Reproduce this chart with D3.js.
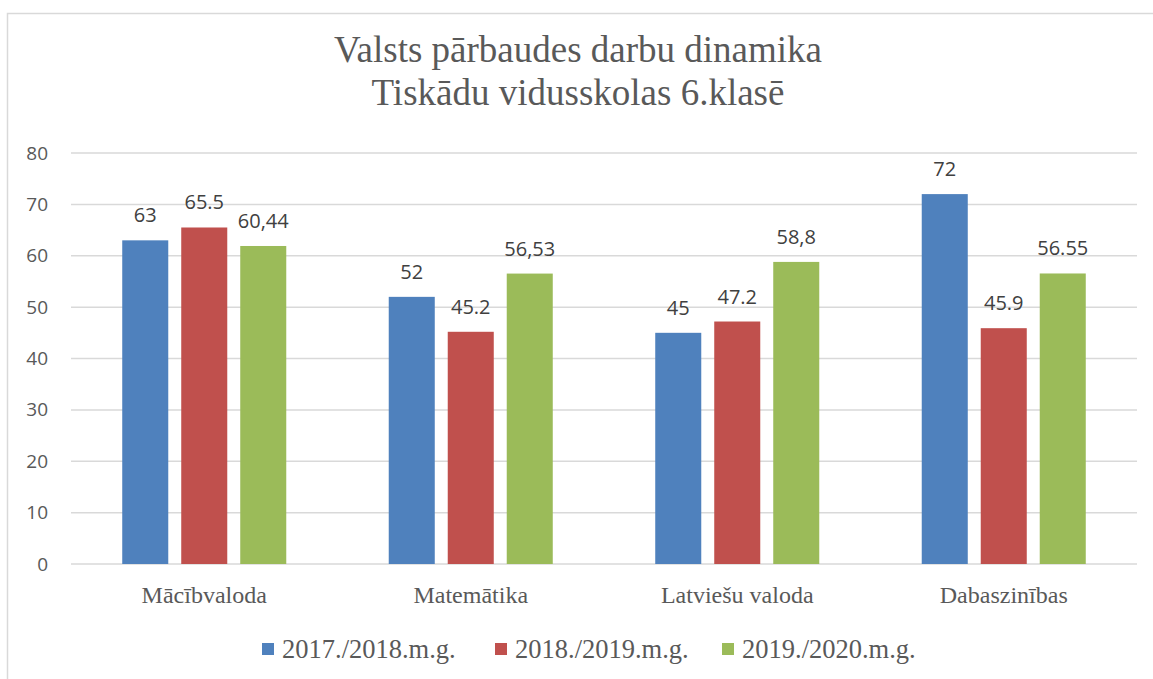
<!DOCTYPE html>
<html>
<head>
<meta charset="utf-8">
<script src="https://cdn.jsdelivr.net/npm/d3@7"></script>
<style>
  body { margin: 0; background: #fff; }
  svg { display: block; }
</style>
</head>
<body>
<div id="chart"></div>
<script>
"use strict"
// Chart data
var categories = ["Mācībvaloda", "Matemātika", "Latviešu valoda", "Dabaszinības"];
var seriesNames = ["2017./2018.m.g.", "2018./2019.m.g.", "2019./2020.m.g."];
var values2017 = [63, 52, 45, 72];
var values2018 = [65.5, 45.2, 47.2, 45.9];
var values2019 = [61.9, 56.53, 58.8, 56.55]; // bar heights as drawn
var labels2017 = ["63", "52", "45", "72"];
var labels2018 = ["65.5", "45.2", "47.2", "45.9"];
var labels2019 = ["60,44", "56,53", "58,8", "56.55"];
var yTicks = [0, 10, 20, 30, 40, 50, 60, 70, 80];
var titleLines = ["Valsts pārbaudes darbu dinamika", "Tiskādu vidusskolas 6.klasē"];

var colors = ["#4F81BD", "#C0504D", "#9BBB59"];
var seriesValues = [values2017, values2018, values2019];
var seriesLabels = [labels2017, labels2018, labels2019];

var width = 1153, height = 679;
var margin = {top: 153, right: 16, bottom: 115, left: 71};
var drawWidth = width - margin.left - margin.right;
var drawHeight = height - margin.top - margin.bottom;

var svg = d3.select("#chart").append("svg")
    .attr("width", width)
    .attr("height", height);

// chart frame
svg.append("rect")
    .attr("x", 7.5).attr("y", 13.5)
    .attr("width", width + 20).attr("height", height + 20)
    .attr("fill", "none")
    .attr("stroke", "#d9d9d9")
    .attr("stroke-width", 1.5);

// title
svg.append("g").selectAll("text")
    .data(titleLines).enter().append("text")
    .attr("x", 578)
    .attr("y", function(d, i) { return 62 + i * 43; })
    .attr("text-anchor", "middle")
    .style("font-family", "'Liberation Serif', 'Times New Roman', serif")
    .style("font-size", "37px")
    .attr("fill", "#595959")
    .text(function(d) { return d; });

var xScale = d3.scaleBand().domain(categories).range([0, drawWidth]);
var x1 = d3.scaleBand().domain(d3.range(seriesNames.length))
    .range([-88.5, 88.5]).paddingInner(0.22).paddingOuter(0.11);
var yScale = d3.scaleLinear().domain([0, 80]).range([drawHeight, 0]);

var g = svg.append("g")
    .attr("transform", "translate(" + margin.left + "," + margin.top + ")");

// gridlines
g.append("g").selectAll("line")
    .data(yTicks).enter().append("line")
    .attr("x1", 0).attr("x2", drawWidth)
    .attr("y1", function(d) { return yScale(d); })
    .attr("y2", function(d) { return yScale(d); })
    .attr("stroke", "#d9d9d9")
    .attr("stroke-width", 1.5);

// y axis labels
var yAxis = d3.axisLeft(yScale).tickValues(yTicks).tickSize(0).tickPadding(23);
g.append("g").attr("class", "y axis").call(yAxis)
    .call(function(s) { s.select(".domain").remove(); })
    .selectAll("text")
    .style("font-family", "'Open Sans', sans-serif")
    .style("font-size", "19px")
    .attr("fill", "#595959");

// x axis labels
var xAxis = d3.axisBottom(xScale).tickSize(0).tickPadding(22);
g.append("g").attr("class", "x axis")
    .attr("transform", "translate(0," + drawHeight + ")")
    .call(xAxis)
    .call(function(s) { s.select(".domain").remove(); })
    .selectAll("text")
    .style("font-family", "'Liberation Serif', 'Times New Roman', serif")
    .style("font-size", "24px")
    .attr("fill", "#595959");

// bars
var groups = g.append("g").selectAll("g")
    .data(categories).enter().append("g")
    .attr("transform", function(d) { return "translate(" + (xScale(d) + xScale.bandwidth() / 2) + ",0)"; });

function groupData(d, ci) {
  return seriesValues.map(function(vals, si) { return {s: si, v: vals[ci], label: seriesLabels[si][ci]}; });
}

groups.selectAll("rect")
    .data(groupData)
    .enter().append("rect")
    .attr("x", function(d) { return x1(d.s); })
    .attr("width", x1.bandwidth())
    .attr("y", function(d) { return yScale(d.v); })
    .attr("height", function(d) { return drawHeight - yScale(d.v); })
    .attr("fill", function(d) { return colors[d.s]; });

groups.selectAll("text")
    .data(groupData)
    .enter().append("text")
    .attr("x", function(d) { return x1(d.s) + x1.bandwidth() / 2; })
    .attr("y", function(d) { return yScale(d.v) - 18; })
    .attr("text-anchor", "middle")
    .style("font-family", "'Open Sans', sans-serif")
    .style("font-size", "20px")
    .attr("fill", "#404040")
    .text(function(d) { return d.label; });

// legend
var legendX = [262, 495, 722];
var legend = svg.append("g").selectAll("g")
    .data(seriesNames).enter().append("g")
    .attr("transform", function(d, i) { return "translate(" + legendX[i] + ",643)"; });
legend.append("rect")
    .attr("width", 12).attr("height", 12)
    .attr("fill", function(d, i) { return colors[i]; });
legend.append("text")
    .attr("x", 20).attr("y", 15)
    .style("font-family", "'Liberation Serif', 'Times New Roman', serif")
    .style("font-size", "26.5px")
    .attr("fill", "#595959")
    .text(function(d) { return d; });
</script>
</body>
</html>
